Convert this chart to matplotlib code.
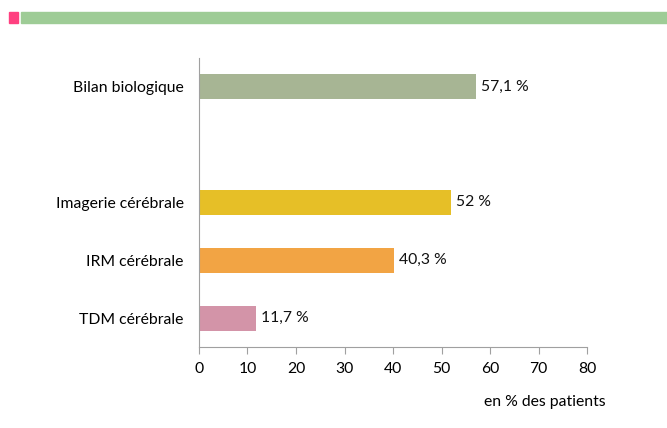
import matplotlib

matplotlib.use("Agg")
import matplotlib.pyplot as plt
from matplotlib.patches import Rectangle

categories = ["TDM cérébrale", "IRM cérébrale", "Imagerie cérébrale", "", "Bilan biologique"]
values = [11.7, 40.3, 52.0, None, 57.1]
labels = ["11,7 %", "40,3 %", "52 %", "", "57,1 %"]
colors = ["#d394a8", "#f2a444", "#e6bf27", "none", "#a7b594"]
xticks = [0, 10, 20, 30, 40, 50, 60, 70, 80]

plt.rcParams["font.family"] = ["Lato", "DejaVu Sans"]
FS = 11.3

fig = plt.figure(figsize=(6.67, 4.28), dpi=100)
ax = fig.add_axes([199 / 667, 1 - 347 / 428, 388 / 667, 289 / 428])

for i, (v, lab, c) in enumerate(zip(values, labels, colors)):
    if v is None:
        continue
    ax.barh(i, v, height=0.43, color=c)
    ax.text(v + 1, i, lab, va="center", ha="left", fontsize=FS, color="#111111")

ax.set_xlim(0, 80)
ax.set_ylim(-0.5, 4.5)
ax.set_xticks(xticks)
ax.set_xticklabels([str(t) for t in xticks], fontsize=FS)
ax.set_yticks(range(len(categories)))
ax.set_yticklabels(categories, fontsize=FS)
ax.tick_params(axis="y", length=0, pad=11)
ax.tick_params(axis="x", length=5, color="#a0a0a0", pad=6)
for s in ["top", "right"]:
    ax.spines[s].set_visible(False)
for s in ["left", "bottom"]:
    ax.spines[s].set_color("#a0a0a0")

fig.text(484 / 667, 1 - 402 / 428, "en % des patients", fontsize=FS, va="center", ha="left")

# header decoration
fig.patches.append(Rectangle((9 / 667, 1 - 23 / 428), 9 / 667, 11 / 428,
                             transform=fig.transFigure, color="#ff4080"))
fig.patches.append(Rectangle((21 / 667, 1 - 23 / 428), 646 / 667, 11 / 428,
                             transform=fig.transFigure, color="#9ecc96"))

fig.savefig("out.png", dpi=100)
